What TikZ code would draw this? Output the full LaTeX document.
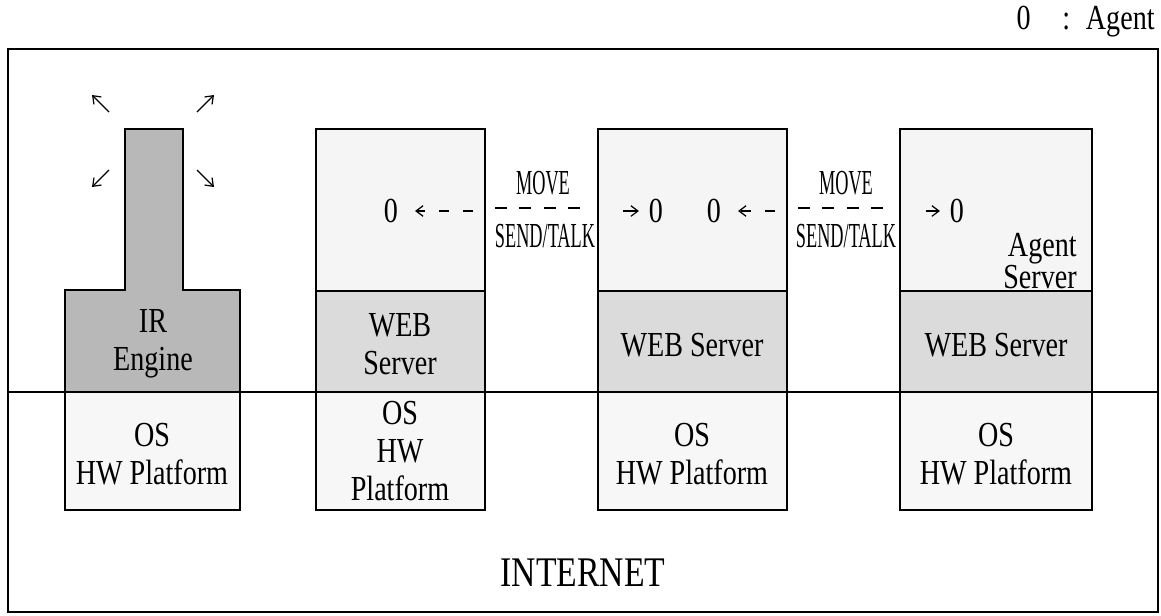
\documentclass[tikz,border=0pt]{standalone}
\usepackage{fontspec}
\setmainfont[FakeStretch=0.8]{Liberation Serif}
\usepackage{graphicx}
\usetikzlibrary{arrows.meta,calc}

\newcommand{\tightlbl}[1]{\scalebox{0.65}[1]{#1}}

\begin{document}
\begin{tikzpicture}[x=0.02cm,y=-0.02cm,
    >={Straight Barb[length=4pt,width=6pt]},
    box/.style={draw=black,line width=0.9pt},
    lbl/.style={draw=none,inner sep=0pt,align=center,font=\fontsize{20}{21.5}\selectfont},
    agent/.style={draw=none,inner sep=1pt,font=\fontsize{20}{22}\selectfont},
    msg/.style={line width=0.7pt,dash pattern=on 5.7pt off 8pt,->,shorten >=8.5pt},
    gapline/.style={line width=0.7pt,dash pattern=on 6.8pt off 7.1pt},
    hop/.style={line width=0.7pt,->,shorten >=4.5pt}]

\useasboundingbox (0,0) rectangle (1161,616);

% frame and network line
\draw[box] (8,49) rectangle (1158,612);
\draw[box] (8,392) -- (1158,392);

% IR engine block
\filldraw[box,fill=black!28] (125,129) -- (183,129) -- (183,290) -- (240,290)
    -- (240,392) -- (65,392) -- (65,290) -- (125,290) -- cycle;
\coordinate (ir) at (153,141);
\foreach \n/\dx/\dy in {nw/-1/-1, ne/1/-1, sw/-1/1, se/1/1}{
    \coordinate (\n s) at ($(ir)+(44*\dx,29*\dy)$);
    \coordinate (\n e) at ($(ir)+(61*\dx,46*\dy)$);
    \draw[line width=0.7pt,->] (\n s) -- (\n e);
}

% server columns
\foreach \xl/\xr in {316/485, 598/787, 900/1092}{
    \filldraw[box,fill=black!4] (\xl,129) rectangle (\xr,291); % agent area
    \filldraw[box,fill=black!14] (\xl,291) rectangle (\xr,392); % web server
}
\foreach \xl/\xr in {65/240, 316/485, 598/787, 900/1092}{
    \filldraw[box,fill=black!3] (\xl,392) rectangle (\xr,510); % os / hw
}

\node [lbl] (ireng) at (153,344) {IR\\Engine};
\node [lbl] (web2) at (400,344) {WEB\\Server};
\node [lbl] (web3) at (692,345) {WEB Server};
\node [lbl] (web4) at (996,345) {WEB Server};
\node [lbl,anchor=east,font=\fontsize{20}{18.5}\selectfont,align=right] (agsrv) at (1077,261) {Agent\\Server};

\node [lbl] (os1) at (152,454) {OS\\HW Platform};
\node [lbl] (os2) at (400,451) {OS\\HW\\Platform};
\node [lbl] (os3) at (692,454) {OS\\HW Platform};
\node [lbl] (os4) at (996,454) {OS\\HW Platform};

% agents
\node [agent] (a2) at (391,211) {0};
\node [agent] (a3in) at (656,211) {0};
\node [agent] (a3) at (714,211) {0};
\node [agent] (a4) at (957,211) {0};

\coordinate (m2) at (473,211);
\coordinate (m3) at (775,211);
\draw[msg] (m2) -- (a2);
\draw[msg] (m3) -- (a3);

\coordinate (h3) at (623,211);
\coordinate (h4) at (926,211);
\draw[hop] (h3) -- (a3in);
\draw[hop] (h4) -- (a4);

% move / send-talk between servers
\coordinate (g1s) at (495,208);
\coordinate (g1e) at (580,208);
\coordinate (g2s) at (798,208);
\coordinate (g2e) at (883,208);
\draw[gapline] (g1s) -- (g1e);
\draw[gapline] (g2s) -- (g2e);
\node [lbl] (mv1) at (543,183) {\tightlbl{MOVE}};
\node [lbl] (st1) at (545,236) {\tightlbl{SEND/TALK}};
\node [lbl] (mv2) at (846,183) {\tightlbl{MOVE}};
\node [lbl] (st2) at (846,236) {\tightlbl{SEND/TALK}};

\node [lbl,font=\fontsize{24}{26}\selectfont] (net) at (583,573) {INTERNET};

% legend
\node [lbl,anchor=east] (legend) at (1155,22) {0\hspace{18pt}:\hspace{9pt}Agent};

\end{tikzpicture}
\end{document}
